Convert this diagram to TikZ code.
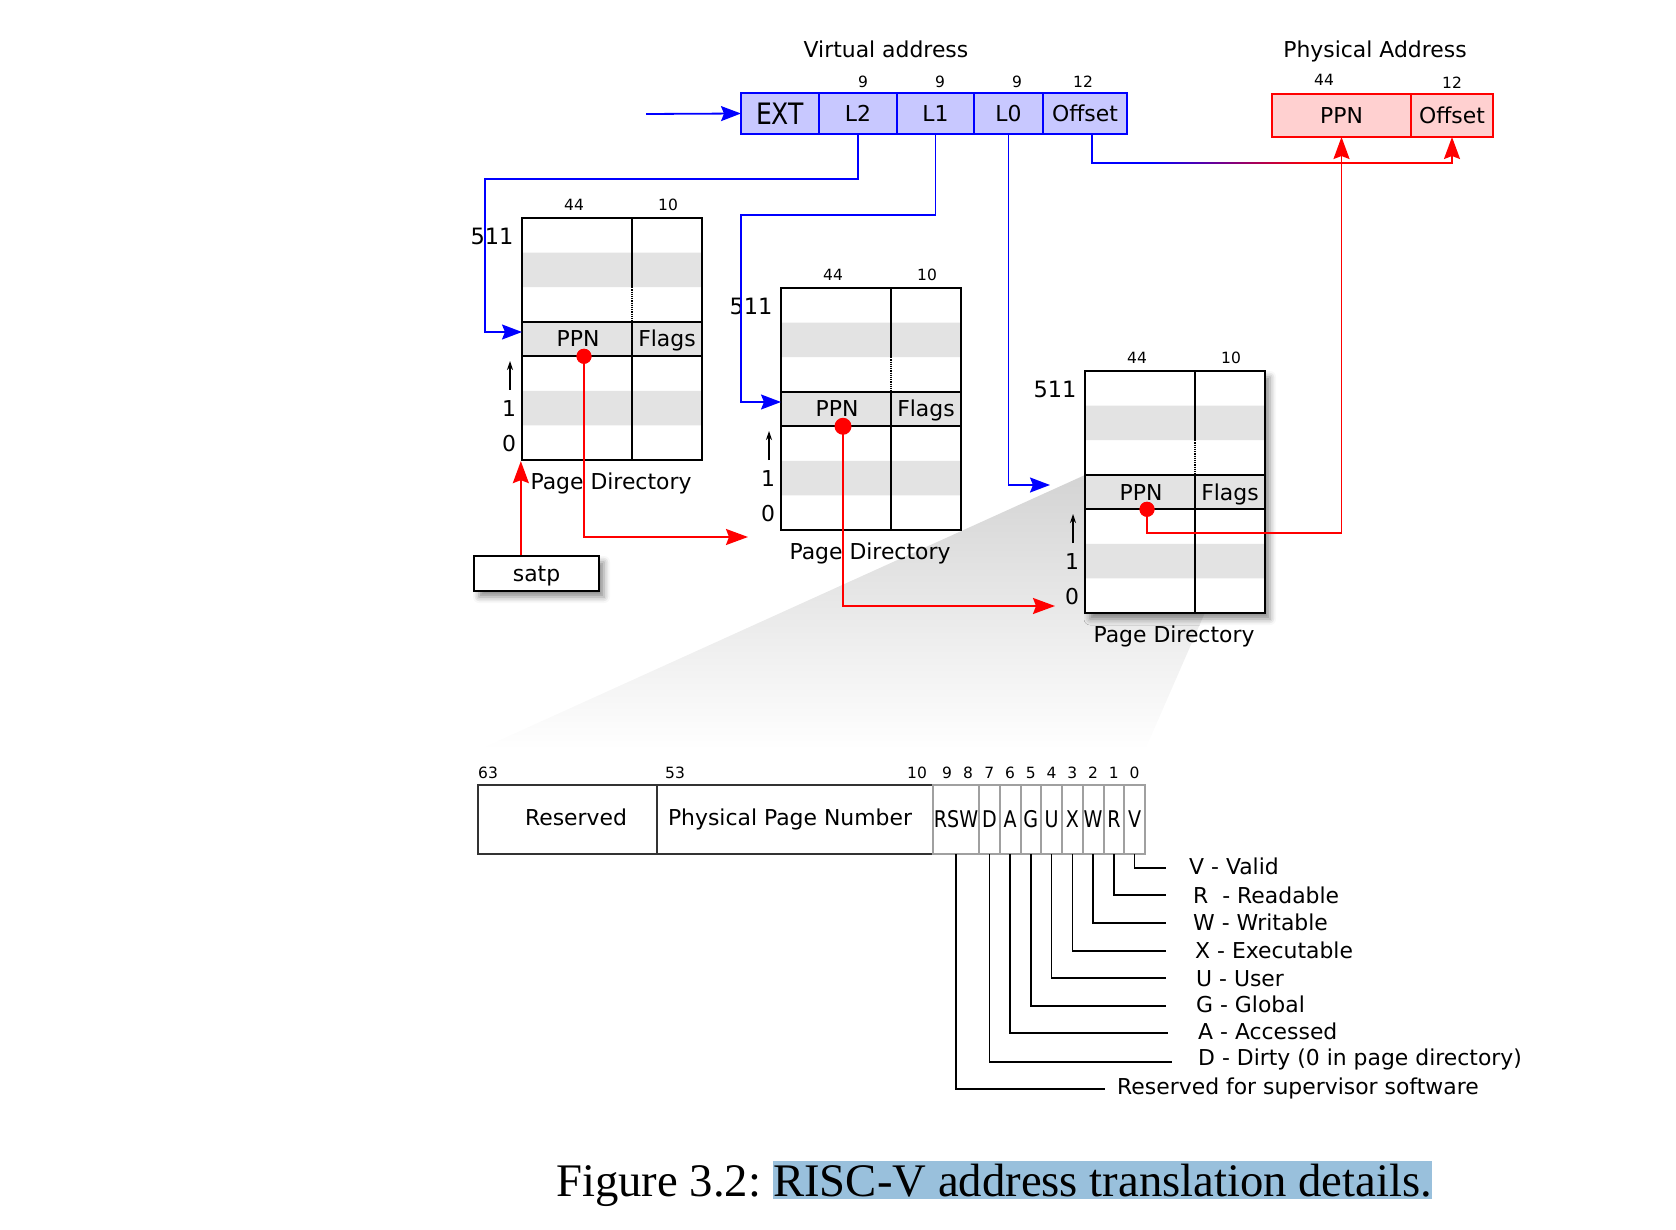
\documentclass[tikz,border=0pt]{standalone}
\usepackage{fontspec}
\setmainfont{DejaVu Sans}
\newfontfamily\capfont{Liberation Serif}
\usetikzlibrary{positioning,arrows.meta,calc,shadows.blur}
\definecolor{vafill}{RGB}{200,200,255}
\definecolor{pafill}{RGB}{255,208,208}
\definecolor{stripegrey}{RGB}{227,227,227}
\definecolor{bitgrey}{RGB}{160,160,160}
\definecolor{hlblue}{RGB}{153,192,220}
\newcommand{\squeeze}[1]{\scalebox{0.83}[1]{\fontsize{23}{26}\selectfont #1}}
% one page directory: name, left x, top y, extra style of the box
\newcommand{\pagedir}[4]{%
  \begin{scope}[shift={(#2,#3)}]
    \node[pdbox,#4] (#1) at (90,121) {};
    \fill[stripegrey] (0,34.57) rectangle (180,69.14) (0,103.71) rectangle (180,138.29) (0,172.86) rectangle (180,207.43);
    \draw[pdline] (110,0) -- (110,69.14) (110,103.71) -- (110,242);
    \draw[densely dotted, line width=1.2pt] (110,69.14) -- (110,103.71);
    \draw[pdline] (0,103.71) -- (180,103.71) (0,138.29) -- (180,138.29);
    \draw[pdline] (0,0) rectangle (180,242);
    \node[bitnum] at (52,-13) {44};
    \node[bitnum] at (146,-13) {10};
    \node[lbl, font=\fontsize{22.5}{26}\selectfont, text height=16.4pt] at (-30,18) {511};
    \node[lbl] at (-13,190.5) {1};
    \node[lbl] at (-13,225.5) {0};
    \draw[uparrow] (-12,172) -- (-12,143);
    \node[lbl] (#1-ppn) at (56,121) {PPN};
    \node[lbl] (#1-flags) at (145,121) {Flags};
    \node[lbl] (#1-name) at (89,263) {Page Directory};
    \node[dot] (#1-dot) at (62,138.29) {};
    \coordinate (#1-in) at (0,114);
  \end{scope}}

\begin{document}
\begin{tikzpicture}[x=1pt, y=-1pt,
    lbl/.style={inner sep=0pt, text height=16pt, text depth=0pt, font=\fontsize{21.9}{25}\selectfont},
    bitnum/.style={inner sep=0pt, text height=11.3pt, text depth=0pt, font=\fontsize{15.5}{18}\selectfont},
    vafield/.style={lbl, draw=blue, fill=vafill, line width=2pt, outer sep=0pt, minimum height=41pt},
    pafield/.style={lbl, draw=red, fill=pafill, line width=2pt, outer sep=0pt, minimum height=43pt},
    pdbox/.style={draw, fill=white, line width=2.3pt, minimum width=180pt, minimum height=242pt, inner sep=0pt},
    pdline/.style={line width=2.3pt},
    dot/.style={circle, fill=red, inner sep=0pt, minimum size=15pt},
    blueline/.style={draw=blue, line width=1.8pt},
    bluearrow/.style={blueline, -{Stealth[length=20pt, width=15pt, inset=3pt]}},
    redline/.style={draw=red, line width=1.8pt},
    redarrow/.style={redline, -{Stealth[length=22pt, width=16pt, inset=3pt]}},
    uparrow/.style={line width=1.4pt, -{Stealth[length=9pt, width=6pt]}},
    fieldbox/.style={lbl, draw=black!80, line width=1.5pt, minimum height=69pt, outer sep=0pt},
    bitbox/.style={lbl, draw=bitgrey, line width=2pt, minimum height=69pt, outer sep=0pt, text height=16.8pt},
    legline/.style={line width=1.5pt},
    shadowed/.style={blur shadow={shadow xshift=5pt, shadow yshift=-6pt, shadow blur radius=6pt, shadow opacity=45}},
    captxt/.style={inner sep=0pt, font=\capfont\fontsize{46.7}{50}\selectfont}
  ]
  \useasboundingbox (0,0) rectangle (1676,1230);

  % zoom wedge from the last PTE to the bit layout
  \shade[top color=black!17, bottom color=white] (1085,475) -- (1265,475) -- (1145,750) -- (478,750) -- cycle;

  % virtual and physical address
  \node[lbl] (va-title) at (886,50) {Virtual address};
  \node[vafield, minimum width=78pt, text height=21.5pt] (va-ext) at (780,113.5) {\scalebox{0.85}[1]{\fontsize{29.5}{32}\selectfont EXT}};
  \node[vafield, minimum width=78pt, right=0pt of va-ext] (va-l2) {L2};
  \node[vafield, minimum width=77pt, right=0pt of va-l2] (va-l1) {L1};
  \node[vafield, minimum width=69pt, right=0pt of va-l1] (va-l0) {L0};
  \node[vafield, minimum width=84pt, right=0pt of va-l0] (va-off) {Offset};
  \node[bitnum] at (863,82) {9};
  \node[bitnum] at (940,82) {9};
  \node[bitnum] at (1017,82) {9};
  \node[bitnum] at (1083,82) {12};

  \node[lbl] (pa-title) at (1375,50) {Physical Address};
  \node[pafield, minimum width=139pt] (pa-ppn) at (1341.5,115.5) {PPN};
  \node[pafield, minimum width=82pt, right=0pt of pa-ppn] (pa-off) {Offset};
  \node[bitnum] at (1324,80) {44};
  \node[bitnum] at (1452,83) {12};

  % the three levels
  \pagedir{t1}{522}{218}{}
  \pagedir{t2}{781}{288}{}
  \pagedir{t3}{1085}{371}{shadowed}

  \node[lbl, draw, fill=white, line width=2pt, minimum width=125pt, minimum height=35pt, shadowed] (satp) at (536.5,573.5) {satp};

  % blue: index fields
  \coordinate (va-in) at (646,114);
  \coordinate (l2-bend) at (485,179);
  \coordinate (l1-bend) at (741,215);
  \draw[bluearrow] (va-in) -- (va-ext.west);
  \draw[bluearrow] (va-l2.south) |- (l2-bend) |- (t1-in);
  \draw[bluearrow] (va-l1.south) |- (l1-bend) |- (t2-in);
  \draw[bluearrow, shorten >=35pt] (va-l0.south) |- (t3-in);

  % offset goes straight through
  \coordinate (grad-a) at (1150,163);
  \coordinate (grad-b) at (1310,163);
  \draw[blueline] ([xshift=7pt]va-off.south) |- (grad-a);
  \shade[left color=blue, right color=red] ([yshift=0.9pt]grad-a) rectangle ([yshift=-0.9pt]grad-b);
  \draw[redarrow] (grad-b) -| (pa-off.south);

  % red: page walk
  \coordinate (t2-entry) at (748,537);
  \coordinate (t3-entry) at (1055,606);
  \coordinate (t3-turn) at (1341.5,533);
  \draw[redarrow] (satp.north -| t1.south west) -- (t1.south west);
  \draw[redarrow] (t1-dot.center) |- (t2-entry);
  \draw[redarrow] (t2-dot.center) |- (t3-entry);
  \draw[redarrow] (t3-dot.center) |- (t3-turn) -- (pa-ppn.south);
  \node[dot] at (t1-dot) {};
  \node[dot, minimum size=17pt] at (t2-dot) {};
  \node[dot] at (t3-dot) {};

  % page table entry
  \node[fieldbox, minimum width=179pt] (pte-res) at (567.5,819.5) {};
  \node[lbl] at (576,817) {Reserved};
  \node[fieldbox, minimum width=276pt] (pte-ppn) at (795,819.5) {};
  \node[lbl] at (790,817) {Physical Page Number};
  \node[bitnum] at (488,773) {63};
  \node[bitnum] at (675,773) {53};
  \node[bitnum] at (917,773) {10};
  \node[bitnum] at (947,773) {9};
  \node[bitnum] at (968,773) {8};
  \node[bitbox, minimum width=46pt] (bit-rsw) at (956,819.5) {\squeeze{RSW}};
  \foreach \b/\l/\n [count=\i] in {d/D/7,a/A/6,g/G/5,u/U/4,x/X/3,w/W/2,r/R/1,v/V/0} {
    \node[bitbox, minimum width=20.75pt] (bit-\b) at ({979+(\i-0.5)*20.75},819.5) {\squeeze{\l}};
    \node[bitnum] at ({979+(\i-0.5)*20.75},773) {\n};
  }

  \foreach \b/\ly/\ty/\ex/\tx/\txt in {
      v/868/866.5/1166/1189/{V - Valid},
      r/895/895/1166/1193/{R\ \ - Readable},
      w/923/922/1166/1193/{W - Writable},
      x/951/950/1166/1195/{X - Executable},
      u/978/978/1166/1196/{U - User},
      g/1006/1004/1166/1196/{G - Global},
      a/1033/1031/1168/1198/{A - Accessed},
      d/1062/1057/1172/1198/{D - Dirty (0 in page directory)},
      rsw/1089/1086/1105/1117/{Reserved for supervisor software}} {
    \coordinate (leg-\b) at (\ex,\ly);
    \draw[legline] (bit-\b.south) |- (leg-\b);
    \node[lbl, anchor=west] (txt-\b) at (\tx,\ty) {\txt};
  }

  % caption
  \node[captxt, anchor=base west] (fig) at (556,1196) {Figure 3.2:};
  \node[captxt, anchor=base west, fill=hlblue, text height=35pt, text depth=3pt] (fig-hl) at ([xshift=11.7pt]fig.base east) {RISC-V address translation details.};
\end{tikzpicture}
\end{document}
